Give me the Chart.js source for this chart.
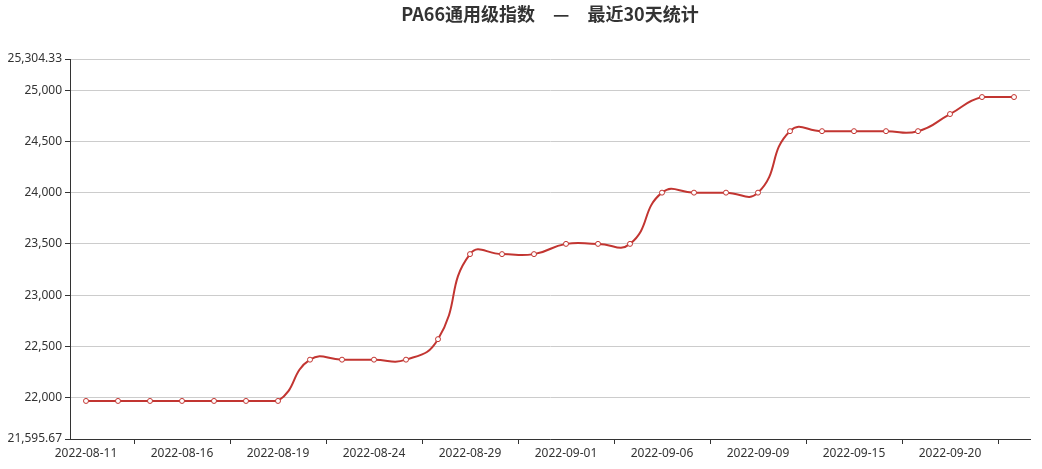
<!DOCTYPE html>
<html lang="zh">
<head>
    <meta charset="UTF-8">
    <title>PA66通用级指数</title>
    <script src="https://cdn.jsdelivr.net/npm/chart.js"></script>
    <style>
        body { margin: 0; background: #fff; }
        #wrap { width: 1042px; height: 469px; }
    </style>
</head>
<body>
<div id="wrap"><canvas id="pa66-chart" width="1042" height="469"></canvas></div>
<script>
// trading days (last 30)
const dates = [
    '2022-08-11', '2022-08-12', '2022-08-15', '2022-08-16', '2022-08-17', '2022-08-18',
    '2022-08-19', '2022-08-22', '2022-08-23', '2022-08-24', '2022-08-25', '2022-08-26',
    '2022-08-29', '2022-08-30', '2022-08-31', '2022-09-01', '2022-09-02', '2022-09-05',
    '2022-09-06', '2022-09-07', '2022-09-08', '2022-09-09', '2022-09-13', '2022-09-14',
    '2022-09-15', '2022-09-16', '2022-09-19', '2022-09-20', '2022-09-21', '2022-09-22'
];
const indexValues = [
    21967, 21967, 21967, 21967, 21967, 21967,
    21967, 22370, 22370, 22370, 22370, 22570,
    23400, 23400, 23400, 23500, 23500, 23500,
    24000, 24000, 24000, 24000, 24600, 24600,
    24600, 24600, 24600, 24767, 24933, 24933
];
const yMin = 21595.67;
const yMax = 25304.33;
const yTicks = [21595.67, 22000, 22500, 23000, 23500, 24000, 24500, 25000, 25304.33];
const labelEvery = 3;

const fmt = v => v.toLocaleString('en-US', { maximumFractionDigits: 2 });

// keep the smoothing control points inside the data's own min/max band
// (so the curve doesn't dip below the low or above the high plateau)
const constrainSmooth = {
    id: 'constrainSmooth',
    beforeDatasetsDraw(chart) {
        const y = chart.scales.y;
        const area = chart.chartArea;
        chart.data.datasets.forEach((ds, i) => {
            const meta = chart.getDatasetMeta(i);
            const line = meta.dataset;
            if (!line) return;
            const lo = Math.min(...ds.data), hi = Math.max(...ds.data);
            line._pointsUpdated = false;
            line.updateControlPoints({
                left: area.left,
                right: area.right,
                top: y.getPixelForValue(hi) - 0.01,
                bottom: y.getPixelForValue(lo) + 0.01
            }, 'x');
        });
    }
};

new Chart(document.getElementById('pa66-chart'), {
    type: 'line',
    data: {
        labels: dates,
        datasets: [{
            label: 'PA66通用级指数',
            data: indexValues,
            borderColor: '#c23531',
            borderWidth: 2,
            tension: 0.5,
            pointRadius: 2.5,
            pointBorderWidth: 1,
            pointBackgroundColor: '#fff',
            pointBorderColor: '#c23531',
            fill: false
        }]
    },
    plugins: [constrainSmooth],
    options: {
        responsive: false,
        animation: false,
        devicePixelRatio: 1,
        layout: { padding: { left: 0, right: 12, top: 0, bottom: 0 } },
        plugins: {
            legend: { display: false },
            tooltip: { enabled: false },
            title: {
                display: true,
                text: 'PA66通用级指数\u3000—\u3000最近30天统计',
                fullSize: false,
                color: '#333',
                font: { family: "'Noto Sans CJK SC', sans-serif", size: 18, weight: 'bold', lineHeight: 1.2 },
                padding: { top: 3, bottom: 34.4 }
            }
        },
        scales: {
            x: {
                type: 'category',
                offset: true,
                afterFit: s => { s.height = 30; },
                border: { display: true, color: '#333', width: 1 },
                grid: {
                    offset: true,
                    drawOnChartArea: false,
                    drawTicks: true,
                    tickLength: 5,
                    tickColor: ctx => (ctx.index % labelEvery === 2 ? '#333' : 'rgba(0,0,0,0)')
                },
                ticks: {
                    autoSkip: false,
                    maxRotation: 0,
                    padding: 2,
                    color: '#333',
                    font: { family: "'Noto Sans', sans-serif", size: 12 },
                    callback: function (val, i) {
                        return i % labelEvery === 0 ? this.getLabelForValue(val) : '';
                    }
                }
            },
            y: {
                min: yMin,
                max: yMax,
                afterFit: s => { s.width = 70; },
                afterBuildTicks: s => { s.ticks = yTicks.map(v => ({ value: v })); },
                border: { display: true, color: '#333', width: 1 },
                grid: {
                    color: '#ccc',
                    tickColor: '#333',
                    tickLength: 5
                },
                ticks: {
                    padding: 3,
                    color: '#333',
                    font: { family: "'Noto Sans', sans-serif", size: 12 },
                    callback: v => fmt(v)
                }
            }
        }
    }
});
</script>
</body>
</html>
